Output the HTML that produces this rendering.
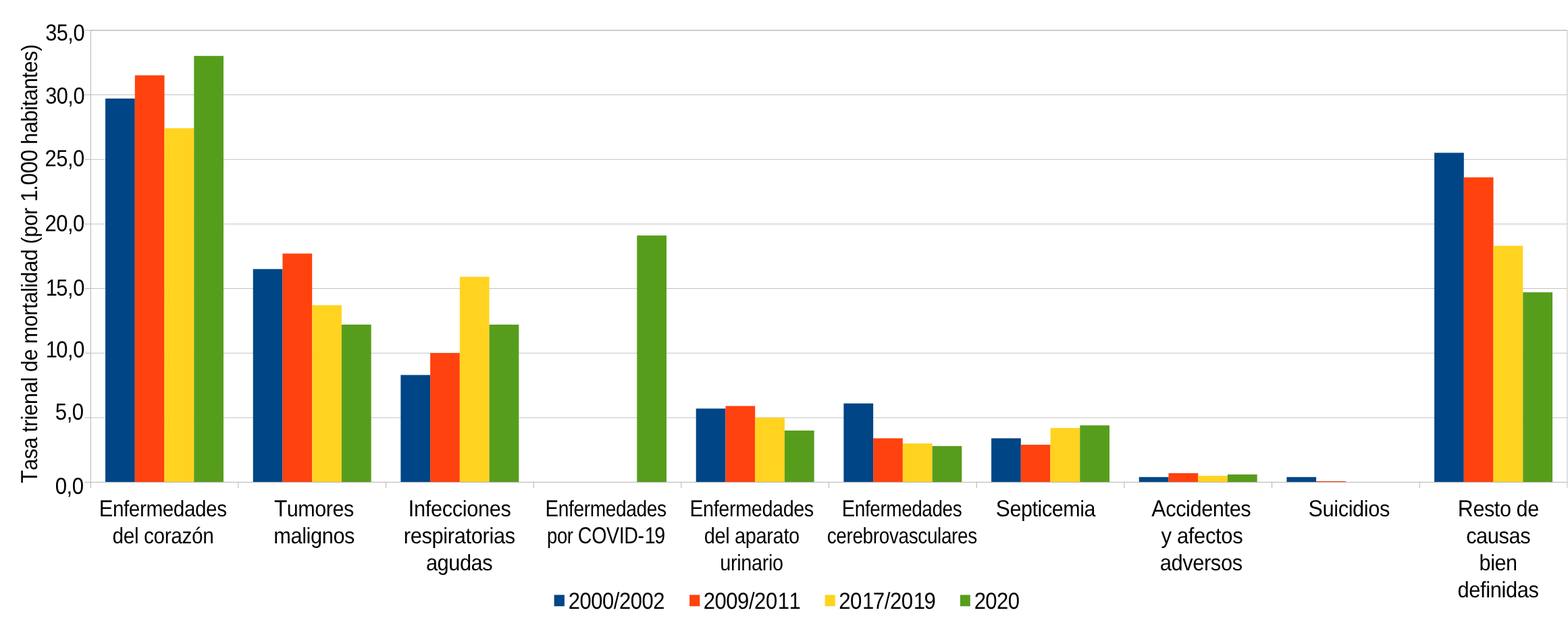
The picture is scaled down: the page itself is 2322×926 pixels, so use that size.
<!DOCTYPE html>
<html lang="es"><head><meta charset="utf-8"><title>Tasa trienal de mortalidad</title>
<style>html,body{margin:0;padding:0;background:#fff;width:2322px;height:926px}svg{display:block}text{font-family:"Liberation Sans",sans-serif;font-size:34.5px;fill:#000;text-rendering:geometricPrecision;font-kerning:none}.s,.s text{font-size:33.2px}.s .c{font-size:34.5px}</style>
</head><body>
<svg width="2322" height="926" viewBox="0 0 2322 926">
<rect x="0" y="0" width="2322" height="926" fill="#ffffff"/>
<g stroke="#b3b3b3" stroke-width="0.8" fill="none">
<line x1="134.40" y1="618.85" x2="2320.87" y2="618.85"/>
<line x1="134.40" y1="523.20" x2="2320.87" y2="523.20"/>
<line x1="134.40" y1="427.50" x2="2320.87" y2="427.50"/>
<line x1="134.40" y1="331.95" x2="2320.87" y2="331.95"/>
<line x1="134.40" y1="236.25" x2="2320.87" y2="236.25"/>
<line x1="134.40" y1="140.45" x2="2320.87" y2="140.45"/>
<line x1="134.40" y1="44.95" x2="2320.87" y2="44.95"/>
<path d="M134.40 44.95H2320.87V714.45"/>
</g>
<g shape-rendering="auto">
<rect x="156.05" y="145.99" width="43.73" height="568.46" fill="#004586"/>
<rect x="199.78" y="111.54" width="43.73" height="602.91" fill="#ff420e"/>
<rect x="243.51" y="190.01" width="43.73" height="524.44" fill="#ffd320"/>
<rect x="287.25" y="82.83" width="43.73" height="631.62" fill="#579d1c"/>
<rect x="374.72" y="398.64" width="43.73" height="315.81" fill="#004586"/>
<rect x="418.45" y="375.67" width="43.73" height="338.78" fill="#ff420e"/>
<rect x="462.18" y="452.23" width="43.73" height="262.22" fill="#ffd320"/>
<rect x="505.92" y="480.94" width="43.73" height="233.51" fill="#579d1c"/>
<rect x="593.38" y="555.59" width="43.73" height="158.86" fill="#004586"/>
<rect x="637.12" y="523.05" width="43.73" height="191.40" fill="#ff420e"/>
<rect x="680.85" y="410.12" width="43.73" height="304.33" fill="#ffd320"/>
<rect x="724.59" y="480.94" width="43.73" height="233.51" fill="#579d1c"/>
<rect x="943.26" y="348.88" width="43.73" height="365.57" fill="#579d1c"/>
<rect x="1030.72" y="605.35" width="43.73" height="109.10" fill="#004586"/>
<rect x="1074.46" y="601.52" width="43.73" height="112.93" fill="#ff420e"/>
<rect x="1118.19" y="618.75" width="43.73" height="95.70" fill="#ffd320"/>
<rect x="1161.92" y="637.89" width="43.73" height="76.56" fill="#579d1c"/>
<rect x="1249.39" y="597.70" width="43.73" height="116.75" fill="#004586"/>
<rect x="1293.13" y="649.37" width="43.73" height="65.08" fill="#ff420e"/>
<rect x="1336.86" y="657.03" width="43.73" height="57.42" fill="#ffd320"/>
<rect x="1380.59" y="660.86" width="43.73" height="53.59" fill="#579d1c"/>
<rect x="1468.06" y="649.37" width="43.73" height="65.08" fill="#004586"/>
<rect x="1511.79" y="658.94" width="43.73" height="55.51" fill="#ff420e"/>
<rect x="1555.53" y="634.06" width="43.73" height="80.39" fill="#ffd320"/>
<rect x="1599.26" y="630.23" width="43.73" height="84.22" fill="#579d1c"/>
<rect x="1686.73" y="706.79" width="43.73" height="7.66" fill="#004586"/>
<rect x="1730.46" y="701.05" width="43.73" height="13.40" fill="#ff420e"/>
<rect x="1774.20" y="704.88" width="43.73" height="9.57" fill="#ffd320"/>
<rect x="1817.93" y="702.97" width="43.73" height="11.48" fill="#579d1c"/>
<rect x="1905.40" y="706.79" width="43.73" height="7.66" fill="#004586"/>
<rect x="1949.13" y="712.92" width="43.73" height="1.53" fill="#ff420e"/>
<rect x="2124.07" y="226.38" width="43.73" height="488.07" fill="#004586"/>
<rect x="2167.80" y="262.75" width="43.73" height="451.70" fill="#ff420e"/>
<rect x="2211.54" y="364.19" width="43.73" height="350.26" fill="#ffd320"/>
<rect x="2255.27" y="433.09" width="43.73" height="281.36" fill="#579d1c"/>
</g>
<g stroke="#b3b3b3" stroke-width="1" fill="none">
<line x1="134.40" y1="44.55" x2="134.40" y2="723.35"/>
<line x1="125.40" y1="714.45" x2="2321.27" y2="714.45"/>
<line x1="125.40" y1="618.85" x2="134.40" y2="618.85"/>
<line x1="125.40" y1="523.20" x2="134.40" y2="523.20"/>
<line x1="125.40" y1="427.50" x2="134.40" y2="427.50"/>
<line x1="125.40" y1="331.95" x2="134.40" y2="331.95"/>
<line x1="125.40" y1="236.25" x2="134.40" y2="236.25"/>
<line x1="125.40" y1="140.45" x2="134.40" y2="140.45"/>
<line x1="125.40" y1="44.95" x2="134.40" y2="44.95"/>
<line x1="352.85" y1="714.45" x2="352.85" y2="723.35"/>
<line x1="571.52" y1="714.45" x2="571.52" y2="723.35"/>
<line x1="790.19" y1="714.45" x2="790.19" y2="723.35"/>
<line x1="1008.86" y1="714.45" x2="1008.86" y2="723.35"/>
<line x1="1227.53" y1="714.45" x2="1227.53" y2="723.35"/>
<line x1="1446.19" y1="714.45" x2="1446.19" y2="723.35"/>
<line x1="1664.86" y1="714.45" x2="1664.86" y2="723.35"/>
<line x1="1883.53" y1="714.45" x2="1883.53" y2="723.35"/>
<line x1="2102.20" y1="714.45" x2="2102.20" y2="723.35"/>
<line x1="2320.87" y1="714.45" x2="2320.87" y2="723.35" stroke-width="0.8"/>
</g>
<g>
<text transform="translate(67.13,60.10) rotate(0.05) scale(0.8901,1)" letter-spacing="-0.524">35,0</text>
<text transform="translate(67.13,153.50) rotate(0.05) scale(0.8901,1)" letter-spacing="-0.524">30,0</text>
<text transform="translate(66.55,246.25) rotate(0.05) scale(0.8960,1)" letter-spacing="-0.521">25,0</text>
<text transform="translate(66.55,342.55) rotate(0.05) scale(0.8960,1)" letter-spacing="-0.521">20,0</text>
<text transform="translate(66.64,438.05) rotate(0.05) scale(0.8938,1)" letter-spacing="-0.504" dx="1.12 -1.12">15,0</text>
<text transform="translate(66.64,529.50) rotate(0.05) scale(0.8938,1)" letter-spacing="-0.504" dx="1.12 -1.12">10,0</text>
<text transform="translate(81.85,621.80) rotate(0.05) scale(0.9019,1)" letter-spacing="-0.552">5,0</text>
<text transform="translate(81.78,731.70) rotate(0.05) scale(0.9035,1)" letter-spacing="-0.552">0,0</text>
</g>
<text class="s" transform="translate(55.20,715.92) rotate(-90) scale(0.9234,1)" letter-spacing="-0.365" dx="0 0 0 0 0 0 0 0 0 0 0 0 0 0 0 0 0 0 0 0 0 0 0 0 0 0 0 0 0 0 0 0 1.08 -1.08"><tspan class="c">T</tspan>asa trienal de mortalidad (por <tspan class="c">1.000</tspan> habitantes)</text>
<g class="s">
<text transform="translate(146.72,765) scale(0.8948,1)" letter-spacing="-0.472"><tspan class="c">E</tspan>nfermedades</text>
<text transform="translate(166.50,805) scale(0.8979,1)" letter-spacing="-0.410">del corazón</text>
<text transform="translate(405.94,765) scale(0.9203,1)" letter-spacing="-0.528"><tspan class="c">T</tspan>umores</text>
<text transform="translate(405.31,805) scale(0.9267,1)" letter-spacing="-0.451">malignos</text>
<text transform="translate(604.55,765) scale(0.9267,1)" letter-spacing="-0.400"><tspan class="c">I</tspan>nfecciones</text>
<text transform="translate(597.75,805) scale(0.9286,1)" letter-spacing="-0.364">respiratorias</text>
<text transform="translate(630.94,845) scale(0.9290,1)" letter-spacing="-0.519">agudas</text>
<text transform="translate(807.55,765) scale(0.8491,1)" letter-spacing="-0.472"><tspan class="c">E</tspan>nfermedades</text>
<text transform="translate(809.98,805) scale(0.8292,1)" letter-spacing="-0.471" dx="0 0 0 0 0 0 0 0 0 0 1.21 -1.21">por <tspan class="c">COVID-19</tspan></text>
<text transform="translate(1021.54,765) scale(0.8686,1)" letter-spacing="-0.472"><tspan class="c">E</tspan>nfermedades</text>
<text transform="translate(1042.63,805) scale(0.8735,1)" letter-spacing="-0.398">del aparato</text>
<text transform="translate(1066.28,845) scale(0.8680,1)" letter-spacing="-0.373">urinario</text>
<text transform="translate(1246.87,765) scale(0.8404,1)" letter-spacing="-0.472"><tspan class="c">E</tspan>nfermedades</text>
<text transform="translate(1224.66,805) scale(0.8411,1)" letter-spacing="-0.410">cerebrovasculares</text>
<text transform="translate(1474.81,765) scale(0.9167,1)" letter-spacing="-0.443"><tspan class="c">S</tspan>epticemia</text>
<text transform="translate(1705.29,765) scale(0.9253,1)" letter-spacing="-0.439"><tspan class="c">A</tspan>ccidentes</text>
<text transform="translate(1719.57,805) scale(0.9344,1)" letter-spacing="-0.401">y afectos</text>
<text transform="translate(1717.74,845) scale(0.9307,1)" letter-spacing="-0.460">adversos</text>
<text transform="translate(1937.50,765) scale(0.9263,1)" letter-spacing="-0.399"><tspan class="c">S</tspan>uicidios</text>
<text transform="translate(2158.84,765) scale(0.9216,1)" letter-spacing="-0.451"><tspan class="c">R</tspan>esto de</text>
<text transform="translate(2171.14,805) scale(0.9297,1)" letter-spacing="-0.500">causas</text>
<text transform="translate(2190.58,845) scale(0.9212,1)" letter-spacing="-0.475">bien</text>
<text transform="translate(2158.56,885) scale(0.9286,1)" letter-spacing="-0.397">definidas</text>
</g>
<g>
<rect x="820.60" y="881.40" width="15.30" height="16.80" fill="#004586"/>
<text transform="translate(841.64,902) scale(0.8978,1)" letter-spacing="-0.487">2000/2002</text>
<rect x="1021.10" y="881.40" width="15.20" height="16.80" fill="#ff420e"/>
<text transform="translate(1041.64,902) scale(0.8980,1)" letter-spacing="-0.473" dx="0 0 0 0 0 0 0 1.11">2009/2011</text>
<rect x="1221.60" y="881.40" width="15.20" height="16.80" fill="#ffd320"/>
<text transform="translate(1242.13,902) scale(0.9030,1)" letter-spacing="-0.487" dx="0 0 1.11 -1.11 0 0 0 1.11 -1.11">2017/2019</text>
<rect x="1421.90" y="881.40" width="14.90" height="16.80" fill="#579d1c"/>
<text transform="translate(1442.64,902) scale(0.8989,1)" letter-spacing="-0.599">2020</text>
</g>
</svg>
</body></html>
